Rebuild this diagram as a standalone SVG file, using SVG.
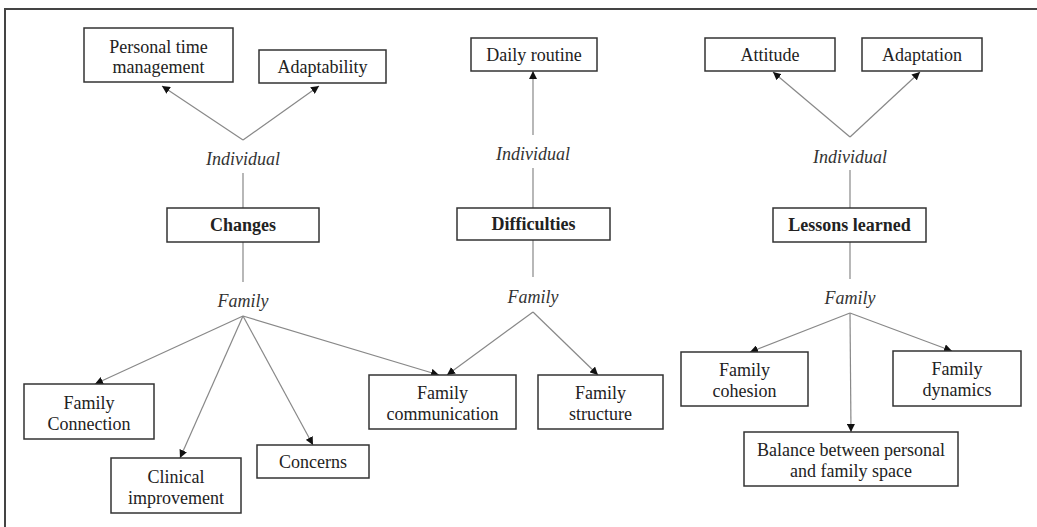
<svg xmlns="http://www.w3.org/2000/svg" width="1037" height="527" viewBox="0 0 1037 527">
<style>
.bx{fill:#fff;stroke:#333;stroke-width:1.5}
.t{font-family:"Liberation Serif","Times New Roman",serif;font-size:18px;fill:#222;text-anchor:middle}
.b{font-weight:bold}
.i{font-style:italic;fill:#333}
.c{stroke:#888;stroke-width:1.2;fill:none}
.a{marker-end:url(#ah)}
</style>
<defs>
<marker id="ah" viewBox="0 0 10 10" refX="10" refY="5" markerWidth="8" markerHeight="8" markerUnits="userSpaceOnUse" orient="auto">
<path d="M0,0 L10,5 L0,10 z" fill="#111"/>
</marker>
</defs>
<rect x="5" y="9" width="1100" height="600" fill="none" stroke="#444" stroke-width="2"/>
<g id="connectors">
<line class="c a" x1="243" y1="140" x2="162" y2="86"/>
<line class="c a" x1="243" y1="140" x2="319" y2="86"/>
<line class="c" x1="243" y1="173" x2="243" y2="208"/>
<line class="c" x1="243" y1="242" x2="243" y2="282"/>
<line class="c a" x1="243" y1="316" x2="95" y2="384"/>
<line class="c a" x1="243" y1="316" x2="180" y2="458"/>
<line class="c a" x1="243" y1="316" x2="313" y2="445"/>
<line class="c a" x1="243" y1="316" x2="439" y2="375"/>
<line class="c a" x1="533" y1="135" x2="533" y2="71"/>
<line class="c" x1="533" y1="168" x2="533" y2="208"/>
<line class="c" x1="533" y1="240" x2="533" y2="277"/>
<line class="c a" x1="533" y1="312" x2="447" y2="375"/>
<line class="c a" x1="533" y1="312" x2="598" y2="375"/>
<line class="c a" x1="850" y1="137" x2="773" y2="72"/>
<line class="c a" x1="850" y1="137" x2="920" y2="72"/>
<line class="c" x1="850" y1="170" x2="850" y2="208"/>
<line class="c" x1="850" y1="242" x2="850" y2="279"/>
<line class="c a" x1="850" y1="313" x2="750" y2="352"/>
<line class="c a" x1="850" y1="313" x2="851" y2="432"/>
<line class="c a" x1="850" y1="313" x2="952" y2="351"/>
</g>
<g id="ptm"><rect class="bx" x="84" y="28" width="149" height="54"/><text class="t" x="158.5" y="53">Personal time</text><text class="t" x="158.5" y="73">management</text></g>
<g id="adaptability"><rect class="bx" x="259" y="50" width="127" height="33"/><text class="t" x="322.5" y="73">Adaptability</text></g>
<g id="ind1"><text class="t i" x="243" y="165">Individual</text></g>
<g id="changes"><rect class="bx" x="167" y="208" width="152" height="34"/><text class="t b" x="243" y="231">Changes</text></g>
<g id="fam1"><text class="t i" x="243" y="307">Family</text></g>
<g id="fconn"><rect class="bx" x="24" y="384" width="130" height="55"/><text class="t" x="89" y="409">Family</text><text class="t" x="89" y="430">Connection</text></g>
<g id="clin"><rect class="bx" x="111" y="458" width="130" height="55"/><text class="t" x="176" y="483">Clinical</text><text class="t" x="176" y="504">improvement</text></g>
<g id="concerns"><rect class="bx" x="257" y="445" width="112" height="33"/><text class="t" x="313" y="468">Concerns</text></g>
<g id="daily"><rect class="bx" x="471" y="38" width="126" height="33"/><text class="t" x="534" y="61">Daily routine</text></g>
<g id="ind2"><text class="t i" x="533" y="160">Individual</text></g>
<g id="difficulties"><rect class="bx" x="457" y="208" width="153" height="32"/><text class="t b" x="533.5" y="230">Difficulties</text></g>
<g id="fam2"><text class="t i" x="533" y="303">Family</text></g>
<g id="fcomm"><rect class="bx" x="369" y="375" width="147" height="54"/><text class="t" x="442.5" y="399">Family</text><text class="t" x="442.5" y="420">communication</text></g>
<g id="fstruct"><rect class="bx" x="538" y="375" width="125" height="54"/><text class="t" x="600.5" y="399">Family</text><text class="t" x="600.5" y="420">structure</text></g>
<g id="attitude"><rect class="bx" x="705" y="38" width="130" height="33"/><text class="t" x="770" y="61">Attitude</text></g>
<g id="adaptation"><rect class="bx" x="862" y="38" width="120" height="33"/><text class="t" x="922" y="61">Adaptation</text></g>
<g id="ind3"><text class="t i" x="850" y="163">Individual</text></g>
<g id="lessons"><rect class="bx" x="773" y="208" width="153" height="34"/><text class="t b" x="849.5" y="231">Lessons learned</text></g>
<g id="fam3"><text class="t i" x="850" y="304">Family</text></g>
<g id="fcoh"><rect class="bx" x="681" y="352" width="127" height="54"/><text class="t" x="744.5" y="376">Family</text><text class="t" x="744.5" y="397">cohesion</text></g>
<g id="fdyn"><rect class="bx" x="893" y="351" width="128" height="55"/><text class="t" x="957" y="375">Family</text><text class="t" x="957" y="396">dynamics</text></g>
<g id="balance"><rect class="bx" x="744" y="432" width="214" height="54"/><text class="t" x="851" y="456">Balance between personal</text><text class="t" x="851" y="477">and family space</text></g>
</svg>
